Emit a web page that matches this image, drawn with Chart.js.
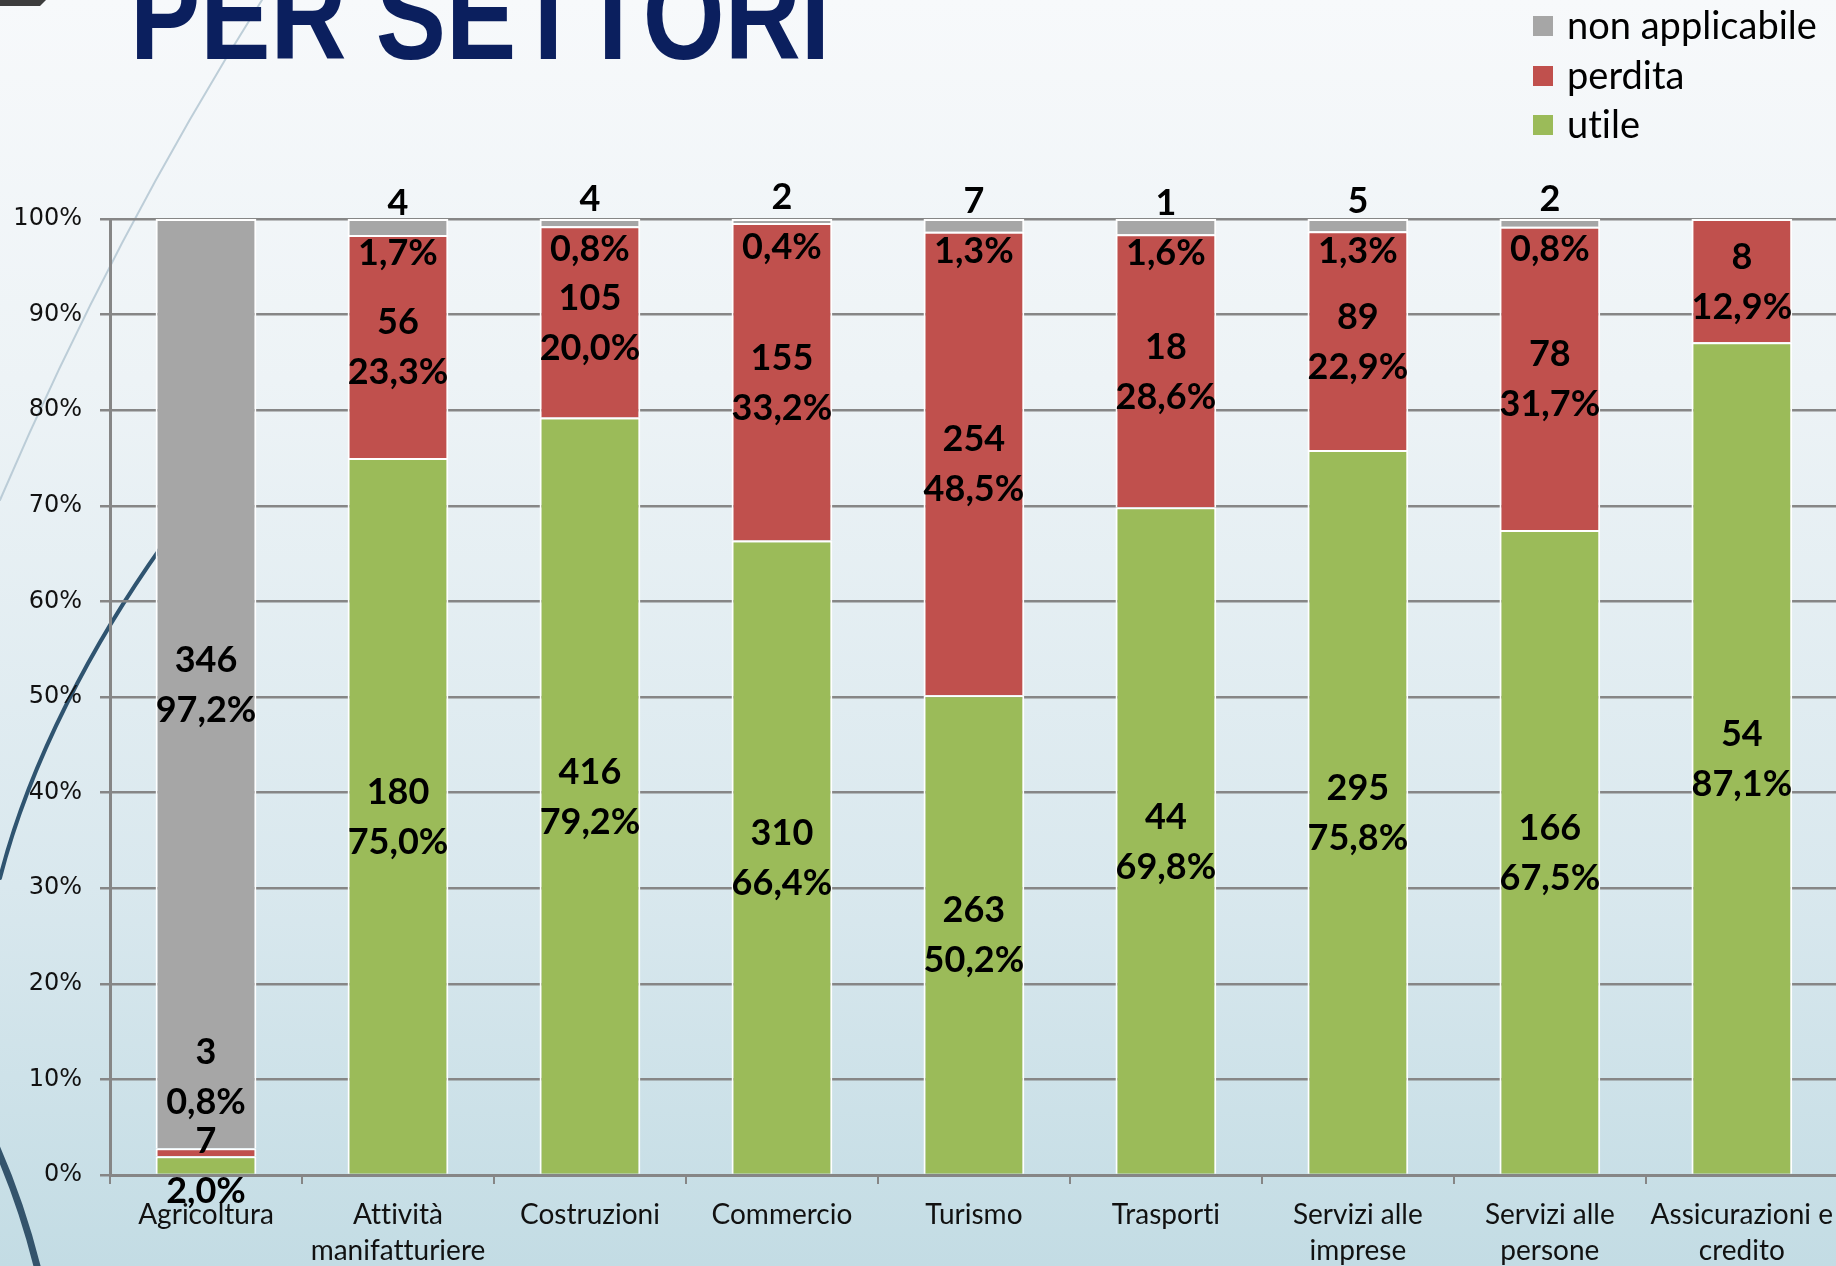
<!DOCTYPE html>
<html lang="it">
<head>
<meta charset="utf-8">
<title>Esiti di bilancio per settori</title>
<script src="https://cdn.jsdelivr.net/npm/chart.js@4.4.1/dist/chart.umd.min.js"></script>
<style>
  html, body { margin: 0; padding: 0; overflow: hidden; background: #e6eff3; width: 1836px; height: 1266px; }
  canvas { display: block; }
</style>
</head>
<body>
<canvas id="settoriChart" width="1845" height="1266"></canvas>
<script>
// settori e numero di imprese per esito di bilancio
const settori = [
  "Agricoltura",
  ["Attività", "manifatturiere"],
  "Costruzioni",
  "Commercio",
  "Turismo",
  "Trasporti",
  ["Servizi alle", "imprese"],
  ["Servizi alle", "persone"],
  ["Assicurazioni e", "credito"]
];
const utile          = [7, 180, 416, 310, 263, 44, 295, 166, 54];
const perdita        = [3, 56, 105, 155, 254, 18, 89, 78, 8];
const nonApplicabile = [346, 4, 4, 2, 7, 1, 5, 2, 0];
const yTickLabels = ["0%", "10%", "20%", "30%", "40%", "50%", "60%", "70%", "80%", "90%", "100%"];
const titolo = "PER SETTORI";

const totali = utile.map((u, i) => u + perdita[i] + nonApplicabile[i]);
const quota = arr => arr.map((v, i) => v / totali[i] * 100);
const fmtPct = v => v.toFixed(1).replace(".", ",") + "%";

const GRIGIO_ASSI = "#868686";

// sfondo sfumato, archi decorativi e titolo
const sfondo = {
  id: "sfondo",
  beforeDraw(chart) {
    const { ctx, width, height } = chart;
    // niente legature ("ti") nei testi del canvas
    ctx.textRendering = "optimizeSpeed";
    ctx.letterSpacing = "0.01px";
    ctx.save();
    const g = ctx.createLinearGradient(0, 0, 0, height);
    g.addColorStop(0, "#f7f9fb");
    g.addColorStop(0.3, "#edf3f6");
    g.addColorStop(0.7, "#d9e8ee");
    g.addColorStop(1, "#c3dce4");
    ctx.fillStyle = g;
    ctx.fillRect(0, 0, width, height);

    // linea chiara sottile
    ctx.lineCap = "round";
    ctx.strokeStyle = "rgba(175,195,208,0.8)";
    ctx.lineWidth = 2;
    ctx.beginPath();
    ctx.moveTo(262, 0);
    ctx.bezierCurveTo(180, 130, 90, 290, 0, 500);
    ctx.stroke();

    // arco scuro superiore
    ctx.strokeStyle = "#2f5470";
    ctx.lineWidth = 4;
    ctx.beginPath();
    ctx.moveTo(162, 546);
    ctx.bezierCurveTo(95, 640, 30, 760, 0, 878);
    ctx.stroke();

    // arco scuro inferiore
    ctx.lineWidth = 7;
    ctx.strokeStyle = "#34546c";
    ctx.beginPath();
    ctx.moveTo(-4, 1146);
    ctx.quadraticCurveTo(22, 1205, 38, 1270);
    ctx.stroke();

    // tacca scura in alto a sinistra
    ctx.fillStyle = "#3d3d3d";
    ctx.beginPath();
    ctx.moveTo(0, 0);
    ctx.lineTo(46, 0);
    ctx.lineTo(40, 6);
    ctx.lineTo(0, 6);
    ctx.closePath();
    ctx.fill();

    // titolo
    ctx.fillStyle = "#0b1f5e";
    ctx.font = 'bold 128px "Liberation Sans Narrow", "Liberation Sans", sans-serif';
    ctx.textBaseline = "alphabetic";
    const w = ctx.measureText(titolo).width;
    ctx.translate(130, 59);
    ctx.scale(700 / w, 1);
    ctx.fillText(titolo, 0, 0);
    ctx.restore();
  }
};

// etichette con numero e percentuale al centro di ogni segmento
const etichette = {
  id: "etichette",
  afterDatasetsDraw(chart) {
    const { ctx } = chart;
    const lh = 50, minGap = 89, cap = 13;
    ctx.save();
    ctx.fillStyle = "#000";
    ctx.font = 'bold 36px Lato, "Open Sans", sans-serif';
    ctx.textAlign = "center";
    ctx.textBaseline = "alphabetic";
    settori.forEach((_, i) => {
      let prev = Infinity;
      chart.data.datasets.forEach((ds, d) => {
        const n = ds.counts[i];
        if (!n) return;
        const el = chart.getDatasetMeta(d).data[i];
        let cy = (el.y + el.base) / 2;
        if (cy > prev - minGap) cy = prev - minGap;
        prev = cy;
        ctx.fillText(String(n), el.x, cy - lh / 2 + cap);
        ctx.fillText(fmtPct(ds.data[i]), el.x, cy + lh / 2 + cap);
      });
    });
    ctx.restore();
  }
};

// legenda verticale in alto a destra
const legenda = {
  id: "legenda",
  afterDraw(chart) {
    const { ctx } = chart;
    const righe = [26, 76, 125];
    const ds = chart.data.datasets.slice().reverse();
    ctx.save();
    ctx.font = '38px Lato, "Open Sans", sans-serif';
    ctx.textBaseline = "middle";
    ctx.textAlign = "left";
    ds.forEach((d, k) => {
      const cy = righe[k];
      ctx.fillStyle = d.backgroundColor;
      ctx.fillRect(1533, cy - 10, 20, 20);
      ctx.fillStyle = "#000";
      ctx.fillText(d.label, 1567, cy + 1);
    });
    ctx.restore();
  }
};

new Chart(document.getElementById("settoriChart"), {
  type: "bar",
  data: {
    labels: settori,
    datasets: [
      { label: "utile", data: quota(utile), counts: utile, backgroundColor: "#9bbb59" },
      { label: "perdita", data: quota(perdita), counts: perdita, backgroundColor: "#c0504d" },
      { label: "non applicabile", data: quota(nonApplicabile), counts: nonApplicabile, backgroundColor: "#a6a6a6" }
    ]
  },
  options: {
    responsive: false,
    animation: false,
    devicePixelRatio: 1,
    layout: { padding: { top: 219, right: 0, bottom: 0, left: 0 } },
    datasets: {
      bar: {
        categoryPercentage: 1,
        barPercentage: 0.525,
        borderColor: "#ffffff",
        borderWidth: 2
      }
    },
    plugins: {
      legend: { display: false },
      tooltip: { enabled: false }
    },
    scales: {
      x: {
        stacked: true,
        grid: {
          display: true,
          drawOnChartArea: false,
          drawTicks: true,
          tickLength: 9,
          color: GRIGIO_ASSI,
          lineWidth: 2
        },
        border: { display: true, color: GRIGIO_ASSI, width: 3 },
        ticks: {
          color: "#111",
          font: { family: "Lato", size: 28, lineHeight: 1.32 },
          padding: 12,
          maxRotation: 0,
          minRotation: 0,
          autoSkip: false
        },
        afterFit(scale) { scale.height = 91; }
      },
      y: {
        stacked: true,
        min: 0,
        max: 100,
        grid: {
          color: GRIGIO_ASSI,
          lineWidth: 2.5,
          tickLength: 10
        },
        border: { display: true, color: GRIGIO_ASSI, width: 3 },
        ticks: {
          stepSize: 10,
          color: "#111",
          font: { family: '"DejaVu Sans"', size: 24 },
          padding: 18,
          callback: v => yTickLabels[Math.round(v / 10)]
        },
        afterFit(scale) { scale.width = 110; }
      }
    }
  },
  plugins: [sfondo, etichette, legenda]
});
</script>
</body>
</html>
